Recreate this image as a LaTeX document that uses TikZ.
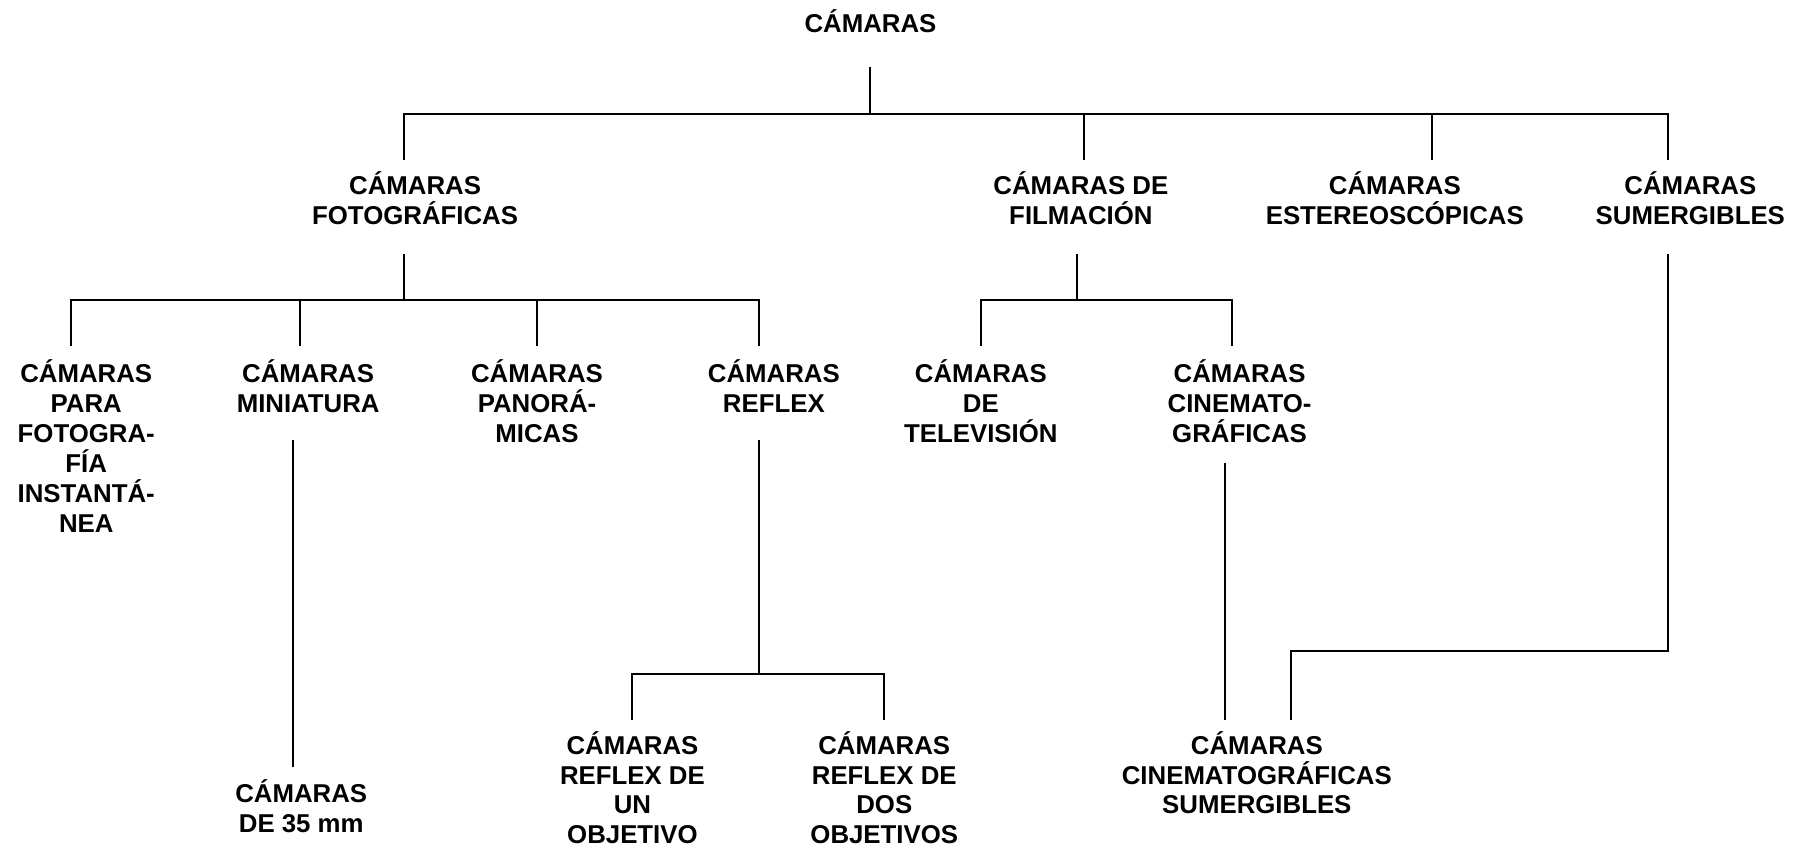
\documentclass[tikz,border=0pt]{standalone}
\usepackage{fontspec}
\setmainfont{Liberation Sans}

\begin{document}
\begin{tikzpicture}[
		x=1.15pt, y=-1.15pt,
		every node/.style={align=center, inner sep=0pt, font=\bfseries\fontsize{25.8}{29.9}\selectfont},
		link/.style={line width=2pt}
	]
	\useasboundingbox (0,0) rectangle (1568,739);

		% Nodes
		\node (camaras) at (757,18) {CÁMARAS};
		\node (foto) at (361,172) {CÁMARAS\\FOTOGRÁFICAS};
		\node (film) at (940,172) {CÁMARAS DE\\FILMACIÓN};
		\node (ester) at (1213,172) {CÁMARAS\\ESTEREOSCÓPICAS};
		\node (sumer) at (1470,172) {CÁMARAS\\SUMERGIBLES};
		\node (para) at (75,388) {CÁMARAS\\PARA\\FOTOGRA-\\FÍA\\INSTANTÁ-\\NEA};
		\node (mini) at (268,336) {CÁMARAS\\MINIATURA};
		\node (pano) at (467,349) {CÁMARAS\\PANORÁ-\\MICAS};
		\node (reflex) at (673,336) {CÁMARAS\\REFLEX};
		\node (tele) at (853,349) {CÁMARAS\\DE\\TELEVISIÓN};
		\node (cine) at (1078,349) {CÁMARAS\\CINEMATO-\\GRÁFICAS};
		\node (mm) at (262,701) {CÁMARAS\\DE 35 mm};
		\node (un) at (550,685) {CÁMARAS\\REFLEX DE\\UN\\OBJETIVO};
		\node (dos) at (769,685) {CÁMARAS\\REFLEX DE\\DOS\\OBJETIVOS};
		\node (cinesum) at (1093,672) {CÁMARAS\\CINEMATOGRÁFICAS\\SUMERGIBLES};

		% Line ends
		\coordinate (camaras-out) at (757,58);
		\coordinate (bus-camaras) at (757,99);
		\coordinate (foto-in) at (351,139);
		\coordinate (film-in) at (943,139);
		\coordinate (ester-in) at (1245,139);
		\coordinate (sumer-in) at (1451,139);
		\coordinate (foto-out) at (351,221);
		\coordinate (bus-foto) at (351,261);
		\coordinate (para-in) at (62,301);
		\coordinate (mini-in) at (261,301);
		\coordinate (pano-in) at (467,301);
		\coordinate (reflex-in) at (660,301);
		\coordinate (film-out) at (937,221);
		\coordinate (bus-film) at (937,261);
		\coordinate (tele-in) at (853,301);
		\coordinate (cine-in) at (1071,301);
		\coordinate (mini-out) at (255,383);
		\coordinate (mm-in) at (255,667);
		\coordinate (reflex-out) at (660,383);
		\coordinate (bus-reflex) at (660,586);
		\coordinate (un-in) at (550,626);
		\coordinate (dos-in) at (769,626);
		\coordinate (cine-out) at (1065,403);
		\coordinate (cinesum-in) at (1065,626);
		\coordinate (sumer-out) at (1451,221);
		\coordinate (bus-sumer) at (1451,566);
		\coordinate (cinesum-in2) at (1123,626);

		% Lines
		\draw[link] (camaras-out) -- (bus-camaras);
		\draw[link] (foto-in) |- (bus-camaras) -| (sumer-in);
		\draw[link] (film-in) -- (film-in |- bus-camaras);
		\draw[link] (ester-in) -- (ester-in |- bus-camaras);

		\draw[link] (foto-out) -- (bus-foto);
		\draw[link] (para-in) |- (bus-foto) -| (reflex-in);
		\draw[link] (mini-in) -- (mini-in |- bus-foto);
		\draw[link] (pano-in) -- (pano-in |- bus-foto);

		\draw[link] (film-out) -- (bus-film);
		\draw[link] (tele-in) |- (bus-film) -| (cine-in);

		\draw[link] (mini-out) -- (mm-in);
		\draw[link] (reflex-out) -- (bus-reflex);
		\draw[link] (un-in) |- (bus-reflex) -| (dos-in);
		\draw[link] (cine-out) -- (cinesum-in);
		\draw[link] (sumer-out) -- (bus-sumer) -| (cinesum-in2);

\end{tikzpicture}
\end{document}
